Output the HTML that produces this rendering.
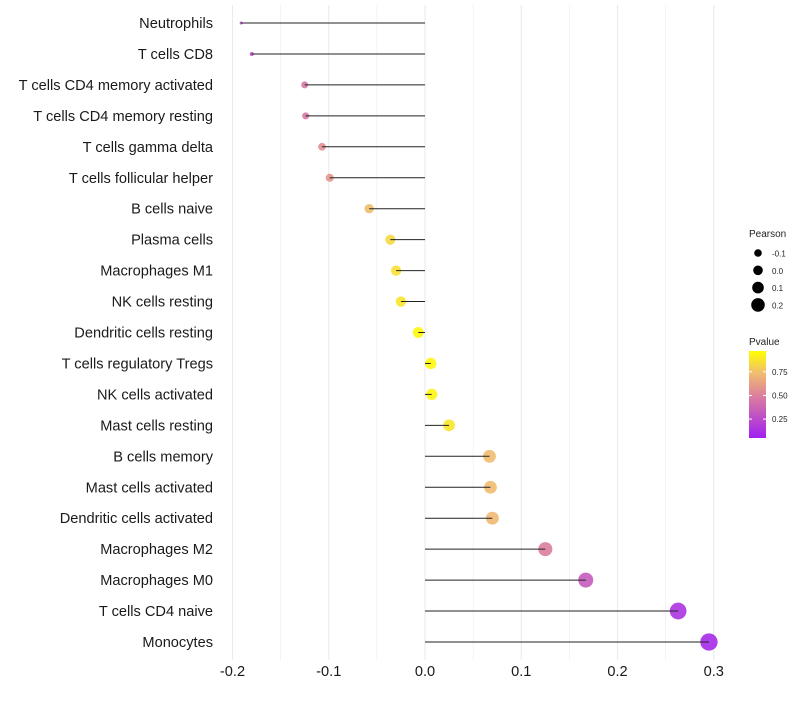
<!DOCTYPE html>
<html><head><meta charset="utf-8"><style>
body{margin:0;background:#fff;font-family:"Liberation Sans",sans-serif}
</style></head><body>
<svg id="chart" width="800" height="700" xmlns="http://www.w3.org/2000/svg" font-family="Liberation Sans, sans-serif"></svg>
<script>
const categories=["Neutrophils","T cells CD8","T cells CD4 memory activated","T cells CD4 memory resting","T cells gamma delta","T cells follicular helper","B cells naive","Plasma cells","Macrophages M1","NK cells resting","Dendritic cells resting","T cells regulatory  Tregs","NK cells activated","Mast cells resting","B cells memory","Mast cells activated","Dendritic cells activated","Macrophages M2","Macrophages M0","T cells CD4 naive","Monocytes"];
const pearson=[-0.191,-0.180,-0.125,-0.124,-0.107,-0.099,-0.058,-0.036,-0.030,-0.025,-0.007,0.006,0.007,0.025,0.067,0.068,0.070,0.125,0.167,0.263,0.295];
const pvalues=[0.2,0.25,0.45,0.45,0.55,0.58,0.75,0.85,0.88,0.9,0.97,0.97,0.96,0.9,0.74,0.74,0.73,0.48,0.3,0.1,0.05];
const xTicks=[-0.2,-0.1,0.0,0.1,0.2,0.3];
const sizeLegend=[-0.1,0.0,0.1,0.2];
const pTicks=[0.75,0.50,0.25];
const svg=document.getElementById('chart');
const NS='http://www.w3.org/2000/svg';
function el(t,a,p){const e=document.createElementNS(NS,t);for(const k in a)e.setAttribute(k,a[k]);(p||svg).appendChild(e);return e;}
const x=v=>425+v*962.5;
const y=i=>23+i*30.95;
const r=v=>Math.max(1.5,Math.sqrt(Math.max(0,2.5+150*(v+0.19))));
const stops=[[0,[160,32,240]],[0.5,[222,130,155]],[0.75,[240,190,110]],[1,[255,255,0]]];
function col(p){let k=0;while(k<stops.length-2&&p>stops[k+1][0])k++;
 const a=stops[k],b=stops[k+1];const t=Math.min(1,Math.max(0,(p-a[0])/(b[0]-a[0])));
 const c=a[1].map((v,j)=>Math.round(v+(b[1][j]-v)*t));return `rgb(${c})`;}
for(let v=-0.2;v<=0.301;v+=0.05){
 const g=el('line',{x1:x(v),x2:x(v),y1:5,y2:660,stroke:'#ebebeb','stroke-width':Math.abs(Math.round(v*20)%2)?0.6:1.1});
 }
categories.forEach((c,i)=>{
 const t=el('text',{x:213,y:y(i)+5,'text-anchor':'end','font-size':14.6,fill:'#1a1a1a'});t.textContent=c;
 
 const pt=el('circle',{cx:x(pearson[i]),cy:y(i),r:r(pearson[i]),fill:col(pvalues[i]),'fill-opacity':0.9});
 
 const ln=el('line',{x1:x(0),x2:x(pearson[i]),y1:y(i),y2:y(i),stroke:'#222','stroke-width':1});
 
});
xTicks.forEach(v=>{const t=el('text',{x:x(v),y:676,'text-anchor':'middle','font-size':14.6,fill:'#1a1a1a'});t.textContent=v.toFixed(1);
 });
let lt=el('text',{x:749,y:237,'font-size':10,fill:'#222'});lt.textContent='Pearson';

sizeLegend.forEach((v,k)=>{const cy=253+k*17.3;
 const c=el('circle',{cx:758,cy:cy,r:3.8+k*1,fill:'#000'});
 const t=el('text',{x:772,y:cy+3.5,'font-size':8,fill:'#222'});t.textContent=v.toFixed(1);
 });
lt=el('text',{x:749,y:345,'font-size':10,fill:'#222'});lt.textContent='Pvalue';

const defs=el('defs',{});const lg=el('linearGradient',{id:'pg',x1:0,y1:0,x2:0,y2:1},defs);
[[0,1],[0.25,0.75],[0.5,0.5],[1,0]].forEach(([o,p])=>el('stop',{offset:o,'stop-color':col(p)},lg));
const bar=el('rect',{x:749,y:351,width:17,height:87,fill:'url(#pg)'});

const py=p=>351+(0.97-p)*87/0.92;
pTicks.forEach(p=>{el('line',{x1:749,x2:752,y1:py(p),y2:py(p),stroke:'#fff'});el('line',{x1:763,x2:766,y1:py(p),y2:py(p),stroke:'#fff'});
 const t=el('text',{x:772,y:py(p)+3,'font-size':8,fill:'#222'});t.textContent=p.toFixed(2);
 });
</script>
</body></html>
